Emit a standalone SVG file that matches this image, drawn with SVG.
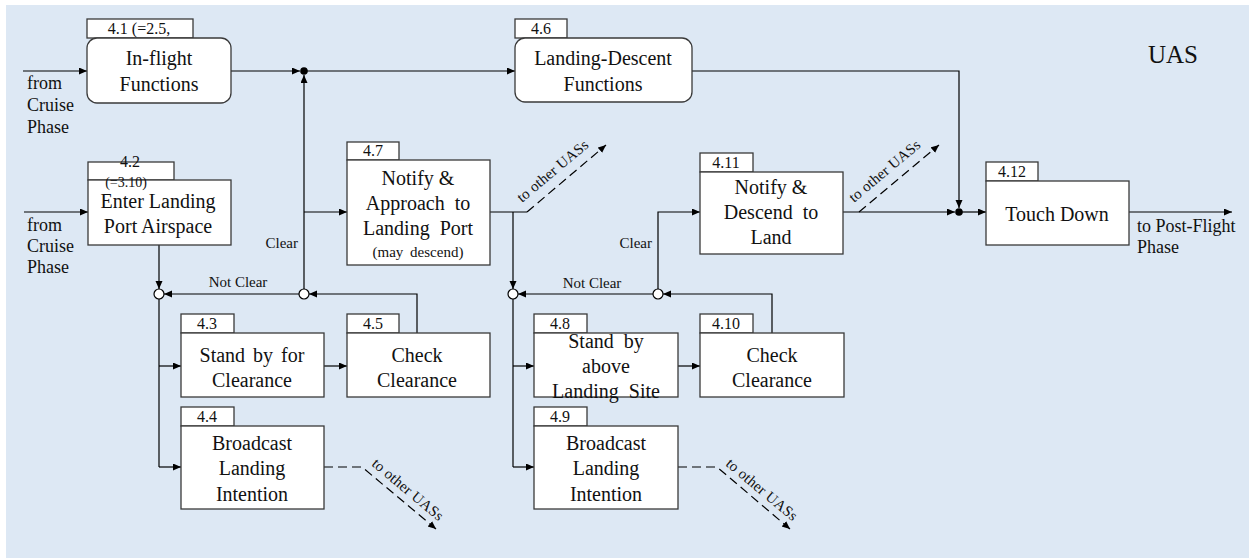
<svg xmlns="http://www.w3.org/2000/svg" width="1249" height="558" viewBox="0 0 1249 558" font-family="'Liberation Serif', 'Times New Roman', serif">
  <defs>
    <marker id="arr" markerWidth="9" markerHeight="8" refX="8" refY="3.5" orient="auto" markerUnits="userSpaceOnUse">
      <path d="M0,0 L8,3.5 L0,7 z" fill="#000"/>
    </marker>
    <style>
      .bg { fill: #dde8f4; }
      .box { fill: #fff; stroke: #3a3a3a; stroke-width: 1.3; }
      .tab { fill: #fff; stroke: #3a3a3a; stroke-width: 1.3; }
      .t { font-family: 'Liberation Serif', 'Times New Roman', serif; fill: #111; }
      .lbl { font-size: 20px; text-anchor: middle; }
      .num { font-size: 16px; text-anchor: middle; }
      .side { font-size: 18px; }
      .cond { font-size: 15px; }
      .diag { font-size: 15px; }
      .ln { fill: none; stroke: #000; stroke-width: 1.2; }
      .arr { marker-end: url(#arr); }
      .dash { stroke-dasharray: 9 5; }
      .open { fill: #fff; stroke: #000; stroke-width: 1.2; }
      .dot { fill: #000; }
    </style>
  </defs>

  <rect class="bg" x="6" y="5" width="1243" height="553"/>
  <text class="t" x="1148" y="63" font-size="25">UAS</text>

  <!-- connectors and their labels -->
  <g id="connectors">
    <path class="ln arr" d="M23,71 H87"/>
    <path class="ln arr" d="M231,71 H300"/>
    <path class="ln arr" d="M304,71 H515"/>
    <path class="ln arr" d="M304,289 V75"/>
    <path class="ln arr" d="M304,212 H347"/>
    <path class="ln arr" d="M24,212 H88"/>
    <path class="ln arr" d="M159,245 V289"/>
    <path class="ln" d="M159,299 V467"/>
    <path class="ln arr" d="M159,366 H181"/>
    <path class="ln arr" d="M159,467 H181"/>
    <path class="ln arr" d="M324,366 H347"/>
    <path class="ln arr" d="M417,333 V294 H309"/>
    <path class="ln arr" d="M299,294 H164"/>
    <path class="ln" d="M490,212 H527"/>
    <path class="ln arr dash" d="M527,212 L606,145"/>
    <path class="ln arr" d="M513,212 V289"/>
    <path class="ln" d="M513,299 V467"/>
    <path class="ln arr" d="M513,366 H534"/>
    <path class="ln arr" d="M513,467 H534"/>
    <path class="ln arr" d="M678,366 H700"/>
    <path class="ln arr" d="M772,333 V294 H663"/>
    <path class="ln arr" d="M653,294 H518"/>
    <path class="ln arr" d="M658,289 V212 H700"/>
    <path class="ln arr" d="M843,212 H955"/>
    <path class="ln arr dash" d="M859,212 L939,145"/>
    <path class="ln arr" d="M692,71 H959 V208"/>
    <path class="ln arr" d="M959,212 H986"/>
    <path class="ln arr" d="M1129,212 H1232"/>
    <path class="ln arr dash" d="M324,467 H362 L436,529"/>
    <path class="ln arr dash" d="M678,467 H717 L790,529"/>

    <circle class="dot" cx="304" cy="71" r="3.8"/>
    <circle class="dot" cx="959" cy="212" r="3.8"/>
    <circle class="open" cx="159" cy="294" r="5"/>
    <circle class="open" cx="304" cy="294" r="5"/>
    <circle class="open" cx="513" cy="294" r="5"/>
    <circle class="open" cx="658" cy="294" r="5"/>

    <text class="t side" x="27" y="89">from</text>
    <text class="t side" x="27" y="111">Cruise</text>
    <text class="t side" x="27" y="133">Phase</text>
    <text class="t side" x="27" y="231">from</text>
    <text class="t side" x="27" y="252">Cruise</text>
    <text class="t side" x="27" y="273">Phase</text>
    <text class="t side" x="1137" y="232">to Post-Flight</text>
    <text class="t side" x="1137" y="253">Phase</text>

    <text class="t cond" x="238" y="287" text-anchor="middle">Not Clear</text>
    <text class="t cond" x="298" y="248" text-anchor="end">Clear</text>
    <text class="t cond" x="592" y="288" text-anchor="middle">Not Clear</text>
    <text class="t cond" x="652" y="248" text-anchor="end">Clear</text>

    <text class="t diag" x="522" y="203" transform="rotate(-40 522 203)" textLength="88">to other UASs</text>
    <text class="t diag" x="854" y="203" transform="rotate(-40 854 203)" textLength="88">to other UASs</text>
    <text class="t diag" x="371" y="465" transform="rotate(40 371 465)" textLength="88">to other UASs</text>
    <text class="t diag" x="725" y="465" transform="rotate(40 725 465)" textLength="88">to other UASs</text>
  </g>

  <!-- function blocks: numbered tab on top of a labelled box -->
  <g id="n41">
    <rect class="tab" x="87" y="19" width="106" height="19"/>
    <rect class="box" x="87" y="38" width="144" height="65" rx="10"/>
    <text class="t num" x="139" y="34">4.1 (=2.5,</text>
    <text class="t lbl" x="159" y="65">In-flight</text>
    <text class="t lbl" x="159" y="91">Functions</text>
  </g>
  <g id="n46">
    <rect class="tab" x="515" y="19" width="52" height="19"/>
    <rect class="box" x="515" y="38" width="177" height="64" rx="10"/>
    <text class="t num" x="541" y="34">4.6</text>
    <text class="t lbl" x="603" y="65">Landing-Descent</text>
    <text class="t lbl" x="603" y="91">Functions</text>
  </g>
  <g id="n42">
    <rect class="tab" x="88" y="162" width="86" height="18"/>
    <rect class="box" x="88" y="180" width="143" height="65"/>
    <text class="t num" x="130" y="167">4.2</text>
    <text class="t" x="126" y="187" font-size="14" text-anchor="middle">(=3.10)</text>
    <text class="t lbl" x="158" y="208">Enter Landing</text>
    <text class="t lbl" x="158" y="233">Port Airspace</text>
  </g>
  <g id="n47">
    <rect class="tab" x="347" y="142" width="52" height="18"/>
    <rect class="box" x="347" y="160" width="143" height="105"/>
    <text class="t num" x="373" y="156">4.7</text>
    <text class="t lbl" x="418" y="185">Notify &amp;</text>
    <text class="t lbl" x="418" y="210" word-spacing="5">Approach to</text>
    <text class="t lbl" x="418" y="235" word-spacing="5">Landing Port</text>
    <text class="t" x="418" y="257" font-size="15" text-anchor="middle" word-spacing="3">(may descend)</text>
  </g>
  <g id="n411">
    <rect class="tab" x="700" y="153" width="53" height="19"/>
    <rect class="box" x="700" y="172" width="143" height="82"/>
    <text class="t num" x="726" y="168">4.11</text>
    <text class="t lbl" x="771" y="194">Notify &amp;</text>
    <text class="t lbl" x="771" y="219" word-spacing="5">Descend to</text>
    <text class="t lbl" x="771" y="244">Land</text>
  </g>
  <g id="n412">
    <rect class="tab" x="986" y="162" width="52" height="19"/>
    <rect class="box" x="986" y="181" width="143" height="64"/>
    <text class="t num" x="1012" y="177">4.12</text>
    <text class="t lbl" x="1057" y="221">Touch Down</text>
  </g>
  <g id="n43">
    <rect class="tab" x="181" y="314" width="53" height="19"/>
    <rect class="box" x="181" y="333" width="143" height="64"/>
    <text class="t num" x="207" y="329">4.3</text>
    <text class="t lbl" x="252" y="362" word-spacing="3">Stand by for</text>
    <text class="t lbl" x="252" y="387">Clearance</text>
  </g>
  <g id="n45">
    <rect class="tab" x="347" y="314" width="52" height="19"/>
    <rect class="box" x="347" y="333" width="143" height="64"/>
    <text class="t num" x="373" y="329">4.5</text>
    <text class="t lbl" x="417" y="362">Check</text>
    <text class="t lbl" x="417" y="387">Clearance</text>
  </g>
  <g id="n44">
    <rect class="tab" x="181" y="407" width="53" height="19"/>
    <rect class="box" x="181" y="426" width="143" height="83"/>
    <text class="t num" x="207" y="422">4.4</text>
    <text class="t lbl" x="252" y="450">Broadcast</text>
    <text class="t lbl" x="252" y="475">Landing</text>
    <text class="t lbl" x="252" y="501">Intention</text>
  </g>
  <g id="n48">
    <rect class="tab" x="534" y="314" width="53" height="19"/>
    <rect class="box" x="534" y="333" width="144" height="64"/>
    <text class="t num" x="560" y="329">4.8</text>
    <text class="t lbl" x="606" y="348" word-spacing="5">Stand by</text>
    <text class="t lbl" x="606" y="373">above</text>
    <text class="t lbl" x="606" y="398" word-spacing="5">Landing Site</text>
  </g>
  <g id="n410">
    <rect class="tab" x="700" y="314" width="53" height="19"/>
    <rect class="box" x="700" y="333" width="144" height="64"/>
    <text class="t num" x="726" y="329">4.10</text>
    <text class="t lbl" x="772" y="362">Check</text>
    <text class="t lbl" x="772" y="387">Clearance</text>
  </g>
  <g id="n49">
    <rect class="tab" x="534" y="407" width="53" height="19"/>
    <rect class="box" x="534" y="426" width="144" height="83"/>
    <text class="t num" x="560" y="422">4.9</text>
    <text class="t lbl" x="606" y="450">Broadcast</text>
    <text class="t lbl" x="606" y="475">Landing</text>
    <text class="t lbl" x="606" y="501">Intention</text>
  </g>
</svg>
